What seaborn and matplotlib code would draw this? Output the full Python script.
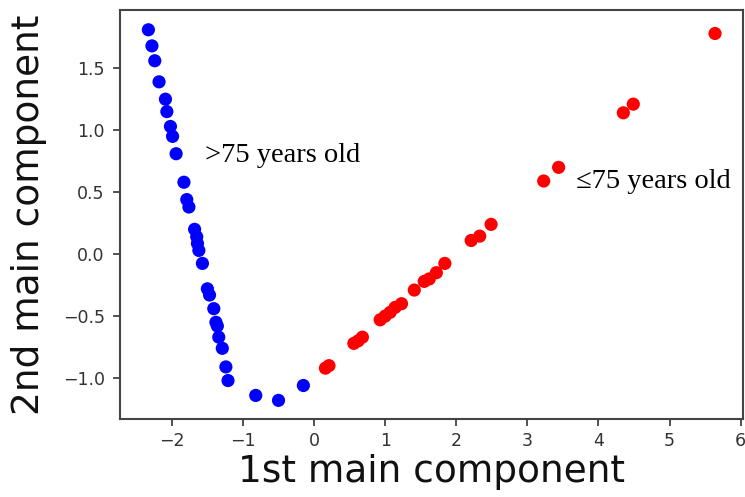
import matplotlib
matplotlib.use("Agg")
import matplotlib.pyplot as plt
import seaborn as sns
import pandas as pd

# >75 years old (blue)
old_x = [-2.33, -2.28, -2.24, -2.18, -2.09, -2.07, -2.02, -1.99, -1.94, -1.83,
         -1.79, -1.76, -1.68, -1.65, -1.64, -1.62, -1.57, -1.50, -1.47, -1.41,
         -1.38, -1.36, -1.34, -1.29, -1.24, -1.21, -0.82, -0.50, -0.15]
old_y = [1.81, 1.68, 1.56, 1.39, 1.25, 1.15, 1.03, 0.95, 0.81, 0.58,
         0.44, 0.38, 0.20, 0.14, 0.086, 0.03, -0.075, -0.28, -0.33, -0.44,
         -0.55, -0.58, -0.67, -0.76, -0.91, -1.02, -1.14, -1.18, -1.06]

# <=75 years old (red)
young_x = [0.16, 0.21, 0.56, 0.62, 0.68, 0.93, 1.00, 1.07, 1.14, 1.23,
           1.41, 1.55, 1.62, 1.72, 1.84, 2.21, 2.33, 2.49, 3.23, 3.44,
           4.35, 4.49, 5.64]
young_y = [-0.92, -0.90, -0.72, -0.70, -0.67, -0.53, -0.50, -0.47, -0.43, -0.40,
           -0.29, -0.22, -0.20, -0.15, -0.075, 0.11, 0.145, 0.24, 0.59, 0.70,
           1.14, 1.21, 1.78]

group_labels = [">75 years old", "\u226475 years old"]
x_ticks = [-2, -1, 0, 1, 2, 3, 4, 5, 6]
y_ticks = [-1.0, -0.5, 0.0, 0.5, 1.0, 1.5]

df = pd.DataFrame({
    "pc1": old_x + young_x,
    "pc2": old_y + young_y,
    "group": [group_labels[0]] * len(old_x) + [group_labels[1]] * len(young_x),
})

sns.set_style("ticks")
plt.rcParams["font.family"] = ["DejaVu Sans"]

fig = plt.figure(figsize=(7.45, 4.97), dpi=100)
ax = fig.add_axes([0.161, 0.157, 0.836, 0.823])

sns.scatterplot(data=df, x="pc1", y="pc2", hue="group",
                palette={group_labels[0]: "#0000ff", group_labels[1]: "#ff0000"},
                s=90, linewidth=0, legend=False, ax=ax)

ax.set_xlim(-2.73, 6.03)
ax.set_ylim(-1.33, 1.97)
ax.set_xticks(x_ticks)
ax.set_xticklabels(["\u2212" + str(abs(t)) if t < 0 else str(t) for t in x_ticks])
ax.set_yticks(y_ticks)
ax.set_yticklabels([("\u2212%.1f" % abs(t)) if t < 0 else "%.1f" % t for t in y_ticks])
ax.tick_params(axis="both", labelsize=12.5, colors="#333333", length=5, width=1.2,
               direction="out")
ax.tick_params(axis="x", pad=4.5)
ax.tick_params(axis="y", pad=6)
for sp in ax.spines.values():
    sp.set_color("#444444")
    sp.set_linewidth(1.5)
    sp.set_visible(True)

ax.set_xlabel("1st main component", fontsize=27, labelpad=3, color="#111111")
ax.set_ylabel("2nd main component", fontsize=27, labelpad=11, color="#111111")

ax.text(-1.53, 0.74, group_labels[0], fontsize=20.5, family="Liberation Serif",
        color="black", ha="left", va="baseline")
ax.text(3.68, 0.53, group_labels[1], fontsize=20.5, family="Liberation Serif",
        color="black", ha="left", va="baseline")

fig.savefig("out.png", dpi=100)
